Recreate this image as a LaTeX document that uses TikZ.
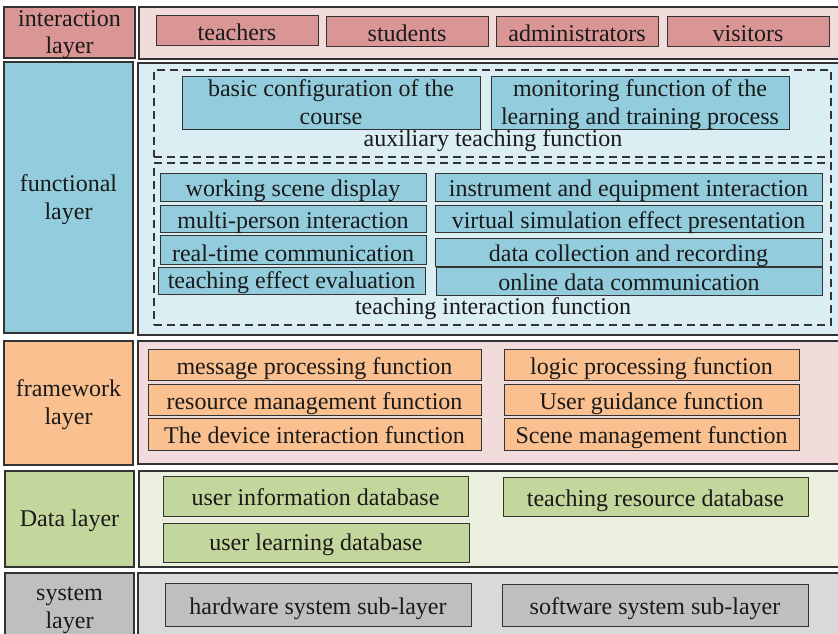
\documentclass[tikz,border=0pt]{standalone}
\usepackage{fontspec}
\setmainfont{Liberation Serif}

\definecolor{redL}{HTML}{D99694}
\definecolor{redP}{HTML}{F2DCDB}
\definecolor{aquaL}{HTML}{93CDDD}
\definecolor{aquaP}{HTML}{DAEEF3}
\definecolor{orangeL}{HTML}{FAC090}
\definecolor{greenL}{HTML}{C3D69B}
\definecolor{greenP}{HTML}{EBF1DE}
\definecolor{grayL}{HTML}{BFBFBF}
\definecolor{grayP}{HTML}{D9D9D9}
\definecolor{edge}{HTML}{333333}
\definecolor{ink}{HTML}{1A1A1A}

\tikzset{
  % span={x1}{y1}{x2}{y2}: a box given by its two corners
  span/.style n args={4}{
    minimum width={(#3-#1)*1pt}, minimum height={(#4-#2)*1pt},
    at={({(#1+#3)/2},{(#2+#4)/2})}},
  % text sits a little below the middle of its box
  base/.style={inner sep=0pt, outer sep=0pt, align=center, text=ink,
    font=\fontsize{24}{28}\selectfont, text height=22pt, text depth=3pt},
  twoline/.style={text height=46pt, text depth=3pt},
  layerlabel/.style={base, draw=edge, line width=1.2pt},
  panel/.style={base, draw=edge, line width=1.2pt},
  item/.style={base, draw=edge, line width=1pt},
  group/.style={base, draw=edge, dash pattern=on 8pt off 5pt, line width=1.4pt},
  caption/.style={base, text height=14pt, text depth=3pt},
}

\begin{document}
\begin{tikzpicture}[x=1pt,y=-1pt]
\useasboundingbox (0,0) rectangle (838,634);

% ---- interaction layer ----
\node[layerlabel, twoline, fill=redL, span={4}{7}{135}{58}] (intL) {interaction\\layer};
\node[panel, fill=redP, span={139}{7}{845}{59}] (intP) {};
\node[item, fill=redL, span={156}{16}{318}{46}] (teachers) {teachers};
\node[item, fill=redL, span={326}{17}{488}{47}] (students) {students};
\node[item, fill=redL, span={496}{17}{658}{47}] (admins) {administrators};
\node[item, fill=redL, span={667}{17}{829}{47}] (visitors) {visitors};

% ---- functional layer ----
\node[layerlabel, twoline, fill=aquaL, span={4}{62}{133}{333}] (funL) {functional\\layer};
\node[panel, fill=aquaP, span={138}{63}{845}{335}] (funP) {};

\node[group, span={154}{70}{831}{157}] (auxG) {};
\node[item, twoline, fill=aquaL, span={182}{77}{480}{129}] (basic) {basic configuration of the\\course};
\node[item, twoline, fill=aquaL, span={491}{77}{789}{129}] (monitor) {monitoring function of the\\learning and training process};
\node[caption] (auxT) at (493,141) {auxiliary teaching function};

\node[group, span={154}{163}{831}{325}] (tiG) {};
\node[item, fill=aquaL, span={160}{173}{426}{201}] (scene) {working scene display};
\node[item, fill=aquaL, span={160}{205}{426}{232}] (multi) {multi-person interaction};
\node[item, fill=aquaL, span={160}{236}{426}{263}, text height=26pt] (realtime) {real-time communication};
\node[item, fill=aquaL, span={158}{267}{425}{294}, text height=18pt] (evaluation) {teaching effect evaluation};
\node[item, fill=aquaL, span={435}{173}{822}{201}] (instrument) {instrument and equipment interaction};
\node[item, fill=aquaL, span={435}{205}{822}{232}] (virtual) {virtual simulation effect presentation};
\node[item, fill=aquaL, span={435}{238}{822}{266}] (collect) {data collection and recording};
\node[item, fill=aquaL, span={436}{267}{822}{295}] (online) {online data communication};
\node[caption] (tiT) at (493,309) {teaching interaction function};

% ---- framework layer ----
\node[layerlabel, twoline, fill=orangeL, span={4}{341}{133}{465}] (fwL) {framework\\layer};
\node[panel, fill=redP, span={138}{341}{845}{464}] (fwP) {};
\node[item, fill=orangeL, span={148}{349}{481}{380}] (message) {message processing function};
\node[item, fill=orangeL, span={148}{384}{481}{415}] (resource) {resource management function};
\node[item, fill=orangeL, span={148}{418}{481}{450}] (device) {The device interaction function};
\node[item, fill=orangeL, span={504}{349}{799}{380}] (logic) {logic processing function};
\node[item, fill=orangeL, span={504}{384}{799}{415}] (guidance) {User guidance function};
\node[item, fill=orangeL, span={504}{418}{799}{450}] (scenemgmt) {Scene management function};

% ---- data layer ----
\node[layerlabel, fill=greenL, span={5}{471}{134}{567}, text height=18pt] (dataL) {Data layer};
\node[panel, fill=greenP, span={139}{471}{845}{567}] (dataP) {};
\node[item, fill=greenL, span={163}{476}{468}{516}] (userinfo) {user information database};
\node[item, fill=greenL, span={163}{523}{469}{562}, text height=18pt] (userlearn) {user learning database};
\node[item, fill=greenL, span={503}{477}{808}{516}] (teachres) {teaching resource database};

% ---- system layer ----
\node[layerlabel, twoline, fill=grayL, span={5}{573}{134}{640}] (sysL) {system\\layer};
\node[panel, fill=grayP, span={138}{573}{845}{640}] (sysP) {};
\node[item, fill=grayL, span={165}{583}{471}{626}] (hardware) {hardware system sub-layer};
\node[item, fill=grayL, span={502}{584}{808}{626}] (software) {software system sub-layer};
\end{tikzpicture}
\end{document}
